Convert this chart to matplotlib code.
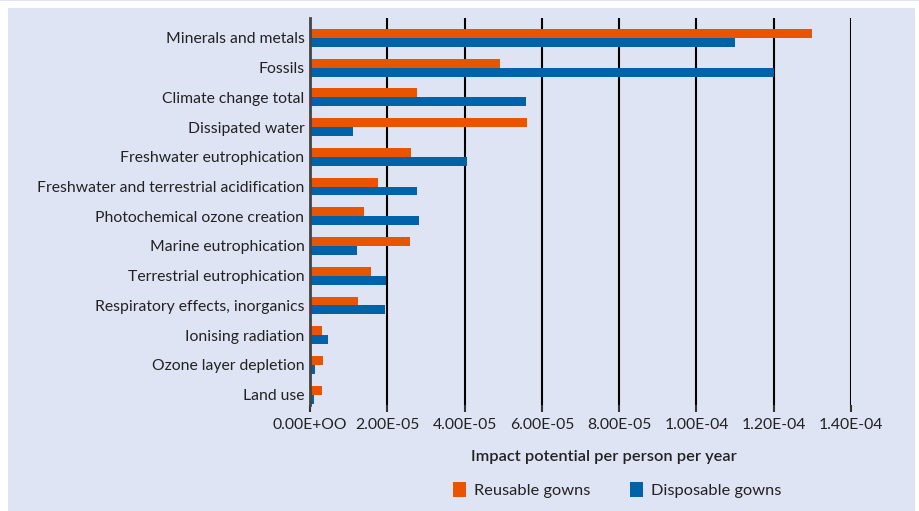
import matplotlib
matplotlib.use("Agg")
import matplotlib.pyplot as plt
from matplotlib.patches import Rectangle, Patch
import numpy as np

plt.rcParams['font.family'] = ['Lato', 'DejaVu Sans']

categories = ["Minerals and metals", "Fossils", "Climate change total", "Dissipated water",
              "Freshwater eutrophication", "Freshwater and terrestrial acidification",
              "Photochemical ozone creation", "Marine eutrophication", "Terrestrial eutrophication",
              "Respiratory effects, inorganics", "Ionising radiation", "Ozone layer depletion", "Land use"]
reusable = [1.30e-4, 4.92e-5, 2.77e-5, 5.61e-5, 2.61e-5, 1.76e-5, 1.40e-5, 2.59e-5, 1.58e-5, 1.24e-5, 3.1e-6, 3.4e-6, 3.1e-6]
disposable = [1.10e-4, 1.20e-4, 5.59e-5, 1.11e-5, 4.06e-5, 2.77e-5, 2.82e-5, 1.22e-5, 1.97e-5, 1.94e-5, 4.7e-6, 1.3e-6, 1.0e-6]
xticks = [0, 2e-5, 4e-5, 6e-5, 8e-5, 1e-4, 1.2e-4, 1.4e-4]
xticklabels = ["0.00E+OO", "2.00E-05", "4.00E-05", "6.00E-05", "8.00E-05", "1.00E-04", "1.20E-04", "1.40E-04"]

BG = "#dfe4f4"
ORANGE = "#e85400"
BLUE = "#0062a8"
TXT = "#222222"

W, H = 920, 511
fig = plt.figure(figsize=(W/100, H/100), dpi=100)
fig.patch.set_facecolor("white")
fig.patches.append(Rectangle((8/W, 0), (915-8)/W, (511-8)/H, transform=fig.transFigure,
                             facecolor=BG, edgecolor="none", zorder=-10))
fig.patches.append(Rectangle((0, 1-1/H), 1, 1/H, transform=fig.transFigure,
                             facecolor=BG, edgecolor="none", zorder=-10))

x0, x1 = 310, 851
y0, y1 = 18, 405
ax = fig.add_axes([x0/W, 1-y1/H, (x1-x0)/W, (y1-y0)/H])
ax.set_facecolor("none")

n = len(categories)
idx = np.arange(n)
h = 0.3
ax.barh(idx - h/2, reusable, height=h, color=ORANGE, zorder=3)
ax.barh(idx + h/2, disposable, height=h, color=BLUE, zorder=3)

ax.set_xlim(0, 1.4e-4)
ax.set_ylim(12.35, -0.67)
ax.set_yticks(idx)
ax.set_yticklabels(categories, fontsize=11.3, color=TXT)
ax.tick_params(axis='y', length=0, pad=4)
ax.set_xticks(xticks)
ax.set_xticklabels(xticklabels, fontsize=11.3, color=TXT)
ax.tick_params(axis='x', length=5, width=1.5, color="#333333", pad=4, direction='out')
for xv in xticks[1:]:
    ax.axvline(xv, color="black", lw=1.5, zorder=1)
for s in ["top", "right", "bottom"]:
    ax.spines[s].set_visible(False)
ax.spines["left"].set_color("#444444")
ax.spines["left"].set_linewidth(2)
ax.spines["left"].set_zorder(4)

ax.set_xlabel("Impact potential per person per year", fontsize=11.8, color=TXT,
              fontweight="semibold")
ax.xaxis.set_label_coords((604 - x0) / (x1 - x0), -(450 - y1) / (y1 - y0))

handles = [Patch(facecolor=ORANGE, label="Reusable gowns"), Patch(facecolor=BLUE, label="Disposable gowns")]
fig.legend(handles=handles, loc="center", bbox_to_anchor=(617/W, 1-490/H), ncol=2, frameon=False,
           fontsize=11.8, handlelength=0.8, handleheight=1.05, columnspacing=2.45, handletextpad=0.45,
           labelcolor=TXT)

fig.savefig("out.png", dpi=100, facecolor=fig.get_facecolor())
